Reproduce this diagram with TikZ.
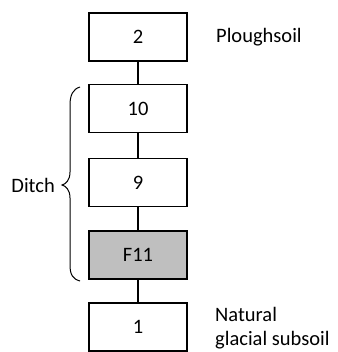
\documentclass[tikz,border=0pt]{standalone}
\usepackage{fontspec}
\setmainfont{Carlito}
\begin{document}
\begin{tikzpicture}[x=1pt,y=-1pt,
  box/.style={draw=black,line width=1.1pt,minimum width=98pt,minimum height=48pt,inner sep=0pt,font=\fontsize{20.5}{24.5}\selectfont},
  lbl/.style={font=\fontsize{20.5}{24.5}\selectfont,inner sep=0pt,anchor=west,align=left},
  conn/.style={line width=1.1pt}]
\useasboundingbox (0,0) rectangle (337,352);
\node[box] (b2) at (138,37) {2};
\node[box] (b10) at (138,108.7) {10};
\node[box] (b9) at (138,182.5) {9};
\node[box,fill={rgb,255:red,191;green,191;blue,191}] (f11) at (138,255) {F11};
\node[box] (b1) at (138,327) {1};
\draw[conn] (b2) -- (b10);
\draw[conn] (b10) -- (b9);
\draw[conn] (b9) -- (f11);
\draw[conn] (f11) -- (b1);
\node[lbl] (plough) at (216,37) {Ploughsoil};
\node[lbl] (nat) at (215,328) {Natural\\glacial subsoil};
\node[lbl,anchor=east] (ditch) at (55,185) {Ditch};
\draw[line width=1pt] (80,87) .. controls (73,89) and (70,95) .. (70,105) -- (70,172) .. controls (70,180) and (66,184) .. (62,185) .. controls (66,186) and (70,190) .. (70,198) -- (70,265) .. controls (70,275) and (73,279) .. (80,281);
\end{tikzpicture}
\end{document}
